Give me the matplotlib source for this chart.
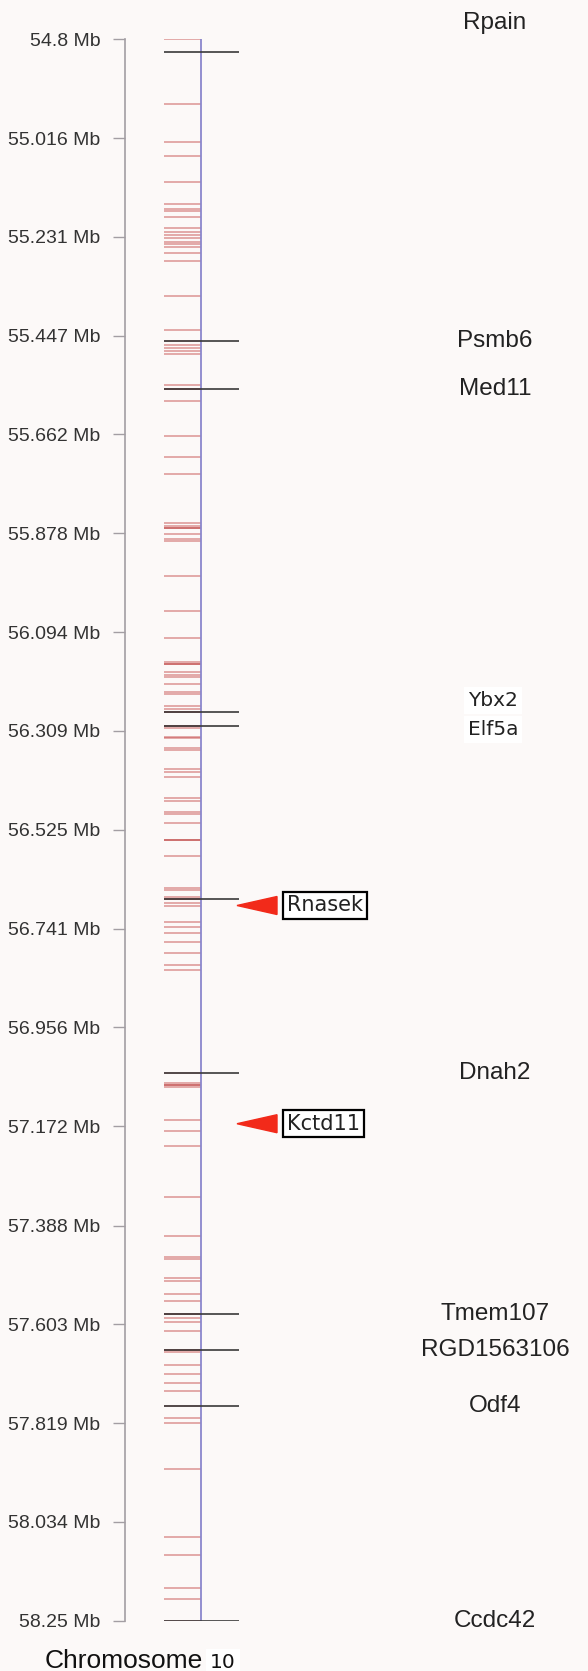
import matplotlib
matplotlib.use("Agg")
import matplotlib.pyplot as plt
from matplotlib.patches import Polygon

# axis ticks (Mb)
tick_labels = ["54.8", "55.016", "55.231", "55.447", "55.662", "55.878", "56.094",
               "56.309", "56.525", "56.741", "56.956", "57.172", "57.388", "57.603",
               "57.819", "58.034", "58.25"]
tick_vals = [float(t) for t in tick_labels]

# marker positions on chromosome 10 (Mb)
markers = [54.800, 54.942, 55.025, 55.055, 55.112, 55.160, 55.171, 55.175, 55.188,
           55.212, 55.220, 55.227, 55.234, 55.242, 55.247, 55.253, 55.267, 55.284,
           55.360, 55.435, 55.459, 55.467, 55.474, 55.480, 55.487, 55.555, 55.564,
           55.589, 55.666, 55.712, 55.749, 55.856, 55.862, 55.866, 55.880, 55.891,
           55.896, 55.971, 56.047, 56.107, 56.158, 56.164, 56.180, 56.187, 56.191,
           56.207, 56.225, 56.229, 56.255, 56.262, 56.269, 56.298, 56.302, 56.322,
           56.325, 56.347, 56.351, 56.392, 56.398, 56.409, 56.456, 56.463, 56.485,
           56.491, 56.511, 56.547, 56.583, 56.652, 56.656, 56.671, 56.675, 56.684,
           56.692, 56.725, 56.736, 56.749, 56.769, 56.794, 56.820, 56.831, 57.056,
           57.078, 57.081, 57.085, 57.158, 57.181, 57.214, 57.326, 57.411, 57.457,
           57.460, 57.503, 57.508, 57.538, 57.552, 57.581, 57.589, 57.598, 57.619,
           57.659, 57.663, 57.692, 57.712, 57.732, 57.749, 57.781, 57.808, 57.819,
           57.919, 58.068, 58.106, 58.179, 58.202, 58.250]
# a few markers that show up darker (overlapping entries)
dark_markers = [55.564, 55.866, 56.164, 56.269, 56.298, 56.547, 56.675, 57.081,
                57.581, 57.659]

# genes
genes = ["Rpain", "Psmb6", "Med11", "Ybx2", "Elf5a", "Dnah2",
         "Tmem107", "RGD1563106", "Odf4", "Ccdc42"]
gene_pos = [54.829, 55.459, 55.564, 56.269, 56.298, 57.056,
            57.581, 57.660, 57.781, 58.250]
label_pos = [54.765, 55.459, 55.564, 56.242, 56.307, 57.056,
             57.581, 57.660, 57.781, 58.250]
boxed = ["Ybx2", "Elf5a"]
extra_lines = [56.675]  # unlabeled gene line near Rnasek

# highlighted genes
hl_genes = ["Rnasek", "Kctd11"]
hl_pos = [56.690, 57.166]

bg = "#fcf9f8"
fig = plt.figure(figsize=(5.88, 16.71), dpi=100, facecolor=bg)
W, H = 588, 1671
top_px, bot_px = 39, 1620.7
ax = fig.add_axes([125 / W, (H - bot_px) / H, (W - 125) / W, (bot_px - top_px) / H])
ax.patch.set_visible(False)
ax.set_xlim(125, 588)
ax.set_ylim(58.25, 54.8)
for s in ["top", "right", "bottom"]:
    ax.spines[s].set_visible(False)
ax.spines["left"].set_color("#a39ea3")
ax.spines["left"].set_linewidth(1.2)
ax.set_xticks([])
ax.set_yticks(tick_vals, labels=[t + " Mb" for t in tick_labels])
ax.tick_params(axis="y", length=8.6, width=1.0, color="#a39ea3", pad=9,
               labelsize=14, labelcolor="#333333")
for lab in ax.get_yticklabels():
    lab.set_family("Liberation Sans")

mb_per_px = (58.25 - 54.8) / (bot_px - top_px)

# marker ticks
ax.hlines(markers, 164, 201, colors="#c03a3a", alpha=0.45, lw=1.3)
ax.hlines(dark_markers, 164, 201, colors="#b02020", alpha=0.45, lw=1.3)
# chromosome
ax.vlines(201, 54.8, 58.25, colors="#8a86cc", lw=1.3)
# gene lines
ax.hlines(gene_pos + extra_lines, 164, 239, colors="#3a3a3a", lw=1.2)

for name, gp, lp in zip(genes, gene_pos, label_pos):
    if name in boxed:
        ax.text(493, lp, name, ha="center", va="center", fontsize=14.5,
                family="DejaVu Sans", color="#222222",
                bbox=dict(boxstyle="square,pad=0.2", fc="white", ec="none"))
    else:
        ax.text(495, lp, name, ha="center", va="center", fontsize=17.5,
                family="Liberation Sans", color="#222222", clip_on=False)

for name, p in zip(hl_genes, hl_pos):
    dy = 9 * mb_per_px
    tri = Polygon([[237, p], [277, p - dy], [277, p + dy]], closed=True,
                  fc="#f22a1a", ec="#f22a1a", clip_on=False)
    ax.add_patch(tri)
    ax.text(287, p, name, ha="left", va="center", fontsize=15,
            family="DejaVu Sans", color="#222222",
            bbox=dict(boxstyle="square,pad=0.18", fc="white", ec="black", lw=1.6))

fig.text(45 / W, (H - 1668) / H, "Chromosome", ha="left", va="baseline",
         fontsize=19, family="Liberation Sans", color="#111111")
fig.text(210 / W, (H - 1668) / H, "10", ha="left", va="baseline",
         fontsize=14.5, family="DejaVu Sans", color="#111111",
         bbox=dict(boxstyle="square,pad=0.2", fc="white", ec="none"))

fig.savefig("out.png", dpi=100, facecolor=bg)
